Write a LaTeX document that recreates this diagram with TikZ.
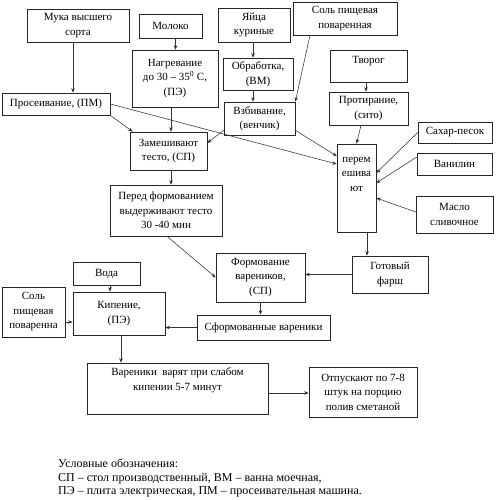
\documentclass[tikz,border=0pt]{standalone}
\usepackage{fontspec}
\setmainfont{Liberation Serif}
\usetikzlibrary{arrows.meta}
\begin{document}
\begin{tikzpicture}[x=1pt,y=-1pt,
  box/.style={draw=black!85,line width=0.6pt,align=center,inner sep=0pt,
    font=\fontsize{11}{14.5}\selectfont},
  lbl/.style={align=center,inner sep=0pt,font=\fontsize{11}{14.5}\selectfont},
  arr/.style={draw=black!80,line width=0.55pt,-{Stealth[length=4.5pt,width=3.5pt]}}]
\useasboundingbox (0,0) rectangle (497,500);
% boxes
\node[box,minimum width=102pt,minimum height=33pt] (muka) at (78,25.5) {Мука высшего\\сорта};
\node[box,minimum width=63pt,minimum height=24pt] (moloko) at (170.5,26) {Молоко};
\node[box,minimum width=86pt,minimum height=57pt] (nagr) at (175,78.5) {Нагревание\\до 30 – 35\textsuperscript{0} С,\\(ПЭ)};
\node[box,minimum width=72pt,minimum height=34pt] (yaica) at (254,25) {Яйца\\куриные};
\node[box,minimum width=104pt,minimum height=33pt] (sol1) at (345,18.5) {Соль пищевая\\поваренная};
\node[box,minimum width=70pt,minimum height=32pt] (obr) at (258,74) {Обработка,\\(ВМ)};
\node[box,minimum width=71pt,minimum height=33pt] (vzb) at (259.5,118.5) {Взбивание,\\(венчик)};
\node[box,minimum width=77pt,minimum height=32pt] (tvorog) at (368.5,66) {};
\node[lbl] (tvorogt) at (368.5,61) {Творог};
\node[box,minimum width=79pt,minimum height=33pt] (prot) at (368.5,108.5) {Протирание,\\(сито)};
\node[box,minimum width=39pt,minimum height=88pt] (perem) at (356.5,188) {};
\node[lbl] (peremt) at (356.5,174) {перем\\ешива\\ют};
\node[box,minimum width=74pt,minimum height=21pt] (sahar) at (455,132.5) {Сахар-песок};
\node[box,minimum width=75pt,minimum height=22pt] (vanil) at (454.5,164) {Ванилин};
\node[box,minimum width=77pt,minimum height=37pt] (maslo) at (454.5,214.5) {Масло\\сливочное};
\node[box,minimum width=108pt,minimum height=22pt] (pros) at (56,104) {Просеивание, (ПМ)};
\node[box,minimum width=77pt,minimum height=38pt] (zam) at (168.5,151) {Замешивают\\тесто, (СП)};
\node[box,minimum width=112pt,minimum height=51pt] (pered) at (166,210.5) {Перед формованием\\выдерживают тесто\\30 -40 мин};
\node[box,minimum width=89pt,minimum height=49pt] (form) at (260.5,277.5) {Формование\\вареников,\\(СП)};
\node[box,minimum width=76pt,minimum height=37pt] (farsh) at (390,274.5) {Готовый\\фарш};
\node[box,minimum width=133pt,minimum height=25pt] (sform) at (263.5,327.5) {Сформованные вареники};
\node[box,minimum width=67pt,minimum height=23pt] (voda) at (106.5,273.5) {Вода};
\node[box,minimum width=92pt,minimum height=43pt] (kip) at (119,313.5) {Кипение,\\(ПЭ)};
\node[box,minimum width=63pt,minimum height=50pt] (sol2) at (33.5,312) {Соль\\пищевая\\поваренна};
\node[box,minimum width=181pt,minimum height=51pt] (varka) at (177.5,388.5) {};
\node[lbl] (varkat) at (177.5,380) {Вареники\ \ варят при слабом\\кипении 5-7 минут};
\node[box,minimum width=108pt,minimum height=50pt] (otp) at (363,392) {Отпускают по 7-8\\штук на порцию\\полив сметаной};
\node[anchor=west,align=left,inner sep=0pt,font=\fontsize{12}{13.3}\selectfont] (legend) at (58,478)
  {Условные обозначения:\\СП – стол производственный, ВМ – ванна моечная,\\ПЭ – плита электрическая, ПМ – просеивательная машина.};
% arrows
\draw[arr] ([xshift=-5pt]muka.south) -- ([xshift=-5pt]muka.south |- pros.north);
\draw[arr] ([xshift=5pt]moloko.south) -- ([xshift=5pt]moloko.south |- nagr.north);
\draw[arr] ([xshift=-4pt]nagr.south) -- ([xshift=-4pt]nagr.south |- zam.north);
\draw[arr] ([xshift=-1pt]yaica.south) -- ([xshift=-1pt]yaica.south |- obr.north);
\draw[arr] ([xshift=-5pt]obr.south) -- ([xshift=-5pt]obr.south |- vzb.north);
\draw[arr] ([xshift=-35pt]sol1.south) -- (vzb.north east);
\draw[arr] ([xshift=-2.5pt]tvorog.south) -- ([xshift=-2.5pt]tvorog.south |- prot.north);
\draw[arr] ([xshift=-7.5pt]prot.south) -- (perem.north);
\draw[arr] ([yshift=5pt]vzb.south east) -- ([yshift=32pt]perem.west);
\draw[arr] (pros.east) -- ([yshift=24pt]perem.west);
\draw[arr] (pros.south east) -- ([xshift=3pt]zam.north west);
\draw[arr] ([yshift=5pt]vzb.south west) -- ([yshift=8pt]zam.east);
\draw[arr] (sahar.west) -- ([yshift=15pt]perem.east);
\draw[arr] ([yshift=7pt]vanil.west) -- ([yshift=5pt]perem.east);
\draw[arr] ([yshift=2.5pt]maslo.west) -- ([yshift=-10pt]perem.east);
\draw[arr] ([xshift=2.5pt]zam.south) -- ([xshift=2.5pt]zam.south |- pered.north);
\draw[arr] ([xshift=1pt]pered.south) -- (form.west);
\draw[arr] ([xshift=10.5pt]perem.south) -- ([xshift=10.5pt]perem.south |- farsh.north);
\draw[arr] (farsh.west) -- (farsh.west -| form.east);
\draw[arr] (form.south) -- (form.south |- sform.north);
\draw[arr] (sform.west) -- (sform.west -| kip.east);
\draw[arr] ([xshift=3.5pt]voda.south) -- ([xshift=3.5pt]voda.south |- kip.north);
\draw[arr] ([yshift=-10pt]sol2.east) -- ([yshift=-10pt]sol2.east -| kip.west);
\draw[arr] ([xshift=2pt]kip.south) -- ([xshift=2pt]kip.south |- varka.north);
\draw[arr] ([yshift=-4.5pt]varka.east) -- ([yshift=-4.5pt]varka.east -| otp.west);
\end{tikzpicture}
\end{document}
